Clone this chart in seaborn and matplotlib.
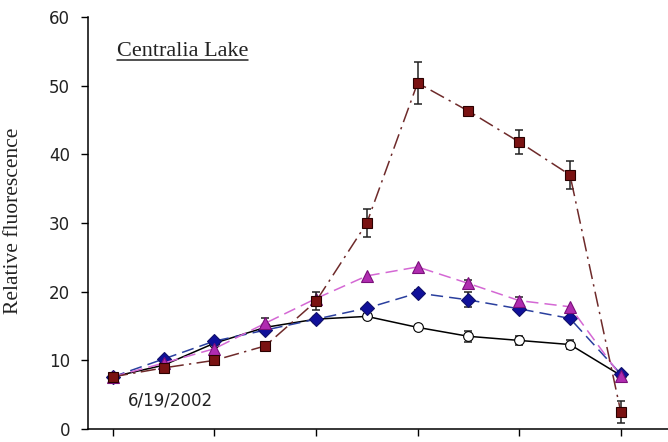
import numpy as np
import pandas as pd
import matplotlib
matplotlib.use("Agg")
import matplotlib.pyplot as plt
import seaborn as sns

# Sampling points (x index) and tick positions
sample = list(range(11))
xticks = [0, 2, 4, 6, 8, 10]
yticks = [0, 10, 20, 30, 40, 50, 60]

# Relative fluorescence per series, with standard errors
open_circle = [7.6, 9.3, 12.5, 14.8, 16.0, 16.4, 14.8, 13.5, 12.9, 12.3, 7.8]
open_circle_err = [0, 0, 0, 0, 0, 0.3, 0, 0.8, 0.7, 0.7, 0]

blue_diamond = [7.6, 10.2, 12.8, 14.4, 16.0, 17.6, 19.8, 18.8, 17.5, 16.1, 8.0]
blue_diamond_err = [0, 0, 0, 0, 0, 0, 0.5, 1.1, 0.4, 0, 0]

magenta_tri = [7.6, 9.6, 11.7, 15.4, 19.0, 22.3, 23.6, 21.2, 18.7, 17.8, 7.7]
magenta_tri_err = [0, 0, 0, 0.8, 0, 0, 0, 0.5, 0.5, 0, 0]

red_square = [7.6, 8.9, 10.0, 12.1, 18.6, 30.0, 50.4, 46.3, 41.8, 37.0, 2.5]
red_square_err = [0.4, 0, 0, 0, 1.3, 2.0, 3.0, 0, 1.8, 2.1, 1.6]

sns.set_style("ticks")
plt.rcParams["font.family"] = ["DejaVu Sans"]

fig = plt.figure(figsize=(6.68, 4.42), dpi=100)
ax = fig.add_axes([88 / 668, 13 / 442, 580 / 668, 412 / 442])

series = [
    dict(y=open_circle, err=open_circle_err, color="black", marker="o", ms=7,
         mfc="white", mec="black", ls="-"),
    dict(y=blue_diamond, err=blue_diamond_err, color="#2a3f9e", marker="D", ms=7.5,
         mfc="#10109a", mec="#10106a", ls=(0, (8, 4))),
    dict(y=magenta_tri, err=magenta_tri_err, color="#d468d4", marker="^", ms=8.5,
         mfc="#b02cb0", mec="#7a107a", ls=(0, (8, 4))),
    dict(y=red_square, err=red_square_err, color="#6e2a2a", marker="s", ms=7,
         mfc="#7a1212", mec="#2a0000", ls=(0, (10, 3.5, 1.5, 3.5))),
]

for i, s in enumerate(series):
    df = pd.DataFrame({"x": sample, "y": s["y"]})
    idx = [k for k, e in enumerate(s["err"]) if e > 0]
    ax.errorbar([sample[k] for k in idx], [s["y"][k] for k in idx],
                yerr=[s["err"][k] for k in idx], fmt="none", ecolor="#222222",
                elinewidth=1.1, capsize=3.2, capthick=1.1, zorder=2 + i * 2)
    sns.lineplot(data=df, x="x", y="y", ax=ax, color=s["color"], linestyle=s["ls"],
                 linewidth=1.1, marker=s["marker"], markersize=s["ms"],
                 markerfacecolor=s["mfc"], markeredgecolor=s["mec"],
                 markeredgewidth=0.8, zorder=3 + i * 2)

ax.set_xlim(-0.49, 10.93)
ax.set_ylim(0, 60)
ax.set_xticks(xticks)
ax.set_xticklabels([])
ax.set_yticks(yticks)
ax.set_yticklabels([str(t) for t in yticks], fontsize=12, color="#222222")
ax.tick_params(axis="both", direction="out", length=5, width=1, color="black")
ax.tick_params(axis="y", pad=8)
for side in ["top", "right"]:
    ax.spines[side].set_visible(False)
for side in ["left", "bottom"]:
    ax.spines[side].set_linewidth(1.1)
    ax.spines[side].set_color("black")

ax.set_xlabel("")
ax.set_ylabel("Relative fluorescence", family=["Liberation Serif"], fontsize=15.5,
              color="#222222")
ax.yaxis.set_label_coords(-0.112, 0.505)

title = ax.text(0.05, 0.917, "Centralia Lake", transform=ax.transAxes,
                family=["Liberation Serif"], fontsize=16, color="#222222",
                ha="left", va="center")
ax.text(0.069, 0.070, "6/19/2002", transform=ax.transAxes, fontsize=12,
        color="#222222", ha="left", va="center")

# Underline the lake name beneath its text box
fig.canvas.draw()
bb = title.get_window_extent().transformed(fig.transFigure.inverted())
fig.add_artist(plt.Line2D([bb.x0, bb.x1], [bb.y0 + 0.002, bb.y0 + 0.002],
                          transform=fig.transFigure, color="#222222", lw=1.1))

fig.savefig("out.png", dpi=100, facecolor="white")
